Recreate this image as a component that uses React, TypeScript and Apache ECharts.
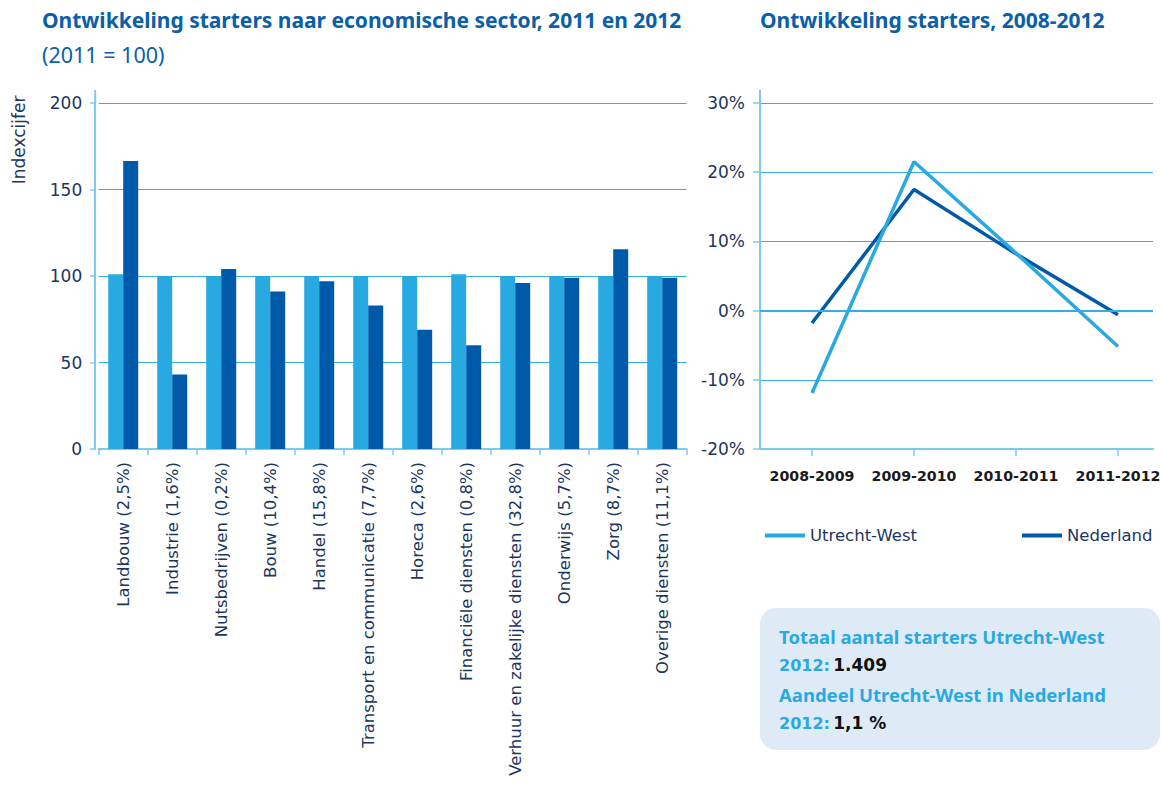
import React, { useEffect, useRef } from "react";
import * as echarts from "echarts";

const sectors = [
  "Landbouw (2,5%)",
  "Industrie (1,6%)",
  "Nutsbedrijven (0,2%)",
  "Bouw (10,4%)",
  "Handel (15,8%)",
  "Transport en communicatie (7,7%)",
  "Horeca (2,6%)",
  "Financiële diensten (0,8%)",
  "Verhuur en zakelijke diensten (32,8%)",
  "Onderwijs (5,7%)",
  "Zorg (8,7%)",
  "Overige diensten (11,1%)",
];
const index2011 = [101, 100, 100, 100, 100, 100, 100, 101, 100, 100, 100, 100];
const index2012 = [166.5, 43, 104, 91, 97, 83, 69, 60, 96, 99, 115.5, 99];

const periods = ["2008-2009", "2009-2010", "2010-2011", "2011-2012"];
const utrechtWest = [-11.9, 21.5, 8.3, -5.2];
const nederland = [-1.8, 17.5, 8.2, -0.6];
const periodTicks = [0, 1, 2, 3];

const LIGHT = "#29a9e1";
const DARK = "#005aaa";
const NAVY = "#1c3660";
const TITLE = "#0b5ea8";
const GRID = "#35ade3";
const AXIS = "#7ccaee";
const FONT = "'DejaVu Sans', sans-serif";
const TFONT = "'Noto Sans', 'Open Sans', sans-serif";

export default function App() {
  const ref = useRef<HTMLDivElement>(null);

  useEffect(() => {
    if (!ref.current) return;
    const chart = echarts.init(ref.current, undefined, { renderer: "svg" });

    const option: any = {
      animation: false,
      textStyle: { fontFamily: FONT },
      grid: [
        { left: 98.7, top: 103, width: 588, height: 346, containLabel: false, outerBoundsMode: "none" },
        { left: 760, top: 103, width: 393, height: 346, containLabel: false, outerBoundsMode: "none" },
      ],
      xAxis: [
        {
          gridIndex: 0,
          type: "category",
          data: sectors,
          axisLine: { lineStyle: { color: AXIS, width: 2 } },
          axisTick: { show: true, length: 6, lineStyle: { color: AXIS, width: 1.5 } },
          axisLabel: {
            rotate: 90,
            margin: 13,
            color: NAVY,
            fontSize: 16.5,
            fontFamily: FONT,
            interval: 0,
          },
        },
        {
          gridIndex: 1,
          type: "value",
          min: -0.51,
          max: 3.343,
          splitLine: { show: false },
          axisLine: { onZero: false, lineStyle: { color: AXIS, width: 2 } },
          axisTick: {
            show: true,
            length: 7,
            customValues: periodTicks,
            lineStyle: { color: AXIS, width: 1.5 },
          },
          axisLabel: {
            customValues: periodTicks,
            formatter: (v: number) => periods[Math.round(v)] ?? "",
            margin: 20,
            color: "#1a1a1a",
            fontSize: 14.2,
            fontWeight: "bold",
            fontFamily: FONT,
          },
        },
      ],
      yAxis: [
        {
          gridIndex: 0,
          type: "value",
          min: 0,
          max: 200,
          interval: 50,
          offset: 3.5,
          axisLine: { show: true, lineStyle: { color: AXIS, width: 2 } },
          axisTick: { show: true, length: 5, lineStyle: { color: AXIS, width: 1.5 } },
          splitLine: { lineStyle: { color: GRID, width: 1 } },
          axisLabel: { color: NAVY, fontSize: 17, margin: 13, fontFamily: FONT },
        },
        {
          gridIndex: 1,
          type: "value",
          min: -20,
          max: 30,
          interval: 10,
          axisLine: { show: true, onZero: false, lineStyle: { color: AXIS, width: 2 } },
          axisTick: { show: true, length: 7, lineStyle: { color: AXIS, width: 1.5 } },
          splitLine: { lineStyle: { color: GRID, width: 1 } },
          axisLabel: {
            color: NAVY,
            fontSize: 17,
            margin: 15,
            fontFamily: FONT,
            formatter: (v: number) => `${v}%`,
          },
        },
      ],
      legend: [
        {
          left: 760,
          top: 522,
          icon: "rect",
          itemWidth: 40,
          itemHeight: 4,
          itemGap: 10,
          data: ["Utrecht-West"],
          textStyle: { color: NAVY, fontSize: 16.5, fontFamily: FONT },
        },
        {
          left: 1017,
          top: 522,
          icon: "rect",
          itemWidth: 40,
          itemHeight: 4,
          itemGap: 10,
          data: ["Nederland"],
          textStyle: { color: NAVY, fontSize: 16.5, fontFamily: FONT },
        },
      ],
      series: [
        {
          name: "2011",
          type: "bar",
          xAxisIndex: 0,
          yAxisIndex: 0,
          data: index2011,
          barWidth: 15,
          barGap: "0%",
          itemStyle: { color: LIGHT },
        },
        {
          name: "2012",
          type: "bar",
          xAxisIndex: 0,
          yAxisIndex: 0,
          data: index2012,
          barWidth: 15,
          barGap: "0%",
          itemStyle: { color: DARK },
        },
        {
          name: "Nederland",
          type: "line",
          xAxisIndex: 1,
          yAxisIndex: 1,
          data: nederland.map((v, i) => [periodTicks[i], v]),
          symbol: "none",
          z: 2,
          lineStyle: { color: DARK, width: 3.5 },
          itemStyle: { color: DARK },
          markLine: {
            silent: true,
            symbol: "none",
            label: { show: false },
            lineStyle: { color: GRID, width: 2, type: "solid" },
            data: [{ yAxis: 0 }],
          },
        },
        {
          name: "Utrecht-West",
          type: "line",
          xAxisIndex: 1,
          yAxisIndex: 1,
          data: utrechtWest.map((v, i) => [periodTicks[i], v]),
          symbol: "none",
          z: 3,
          lineStyle: { color: LIGHT, width: 3.5 },
          itemStyle: { color: LIGHT },
        },
      ],
      graphic: [
        {
          type: "text",
          left: 42,
          top: 9,
          style: {
            text: "Ontwikkeling starters naar economische sector, 2011 en 2012",
            fill: TITLE,
            font: `bold 21px ${TFONT}`,
          },
        },
        {
          type: "text",
          left: 42,
          top: 43,
          style: {
            text: "(2011 = 100)",
            fill: TITLE,
            font: `21.5px ${TFONT}`,
          },
        },
        {
          type: "text",
          left: 760,
          top: 9,
          style: {
            text: "Ontwikkeling starters, 2008-2012",
            fill: TITLE,
            font: `bold 21px ${TFONT}`,
          },
        },
        {
          type: "text",
          x: 19,
          y: 140,
          rotation: Math.PI / 2,
          style: {
            text: "Indexcijfer",
            fill: NAVY,
            font: `17px ${FONT}`,
            align: "center",
            verticalAlign: "middle",
          },
        },
        {
          type: "line",
          shape: { x1: 95.2, y1: 90, x2: 95.2, y2: 104 },
          style: { stroke: AXIS, lineWidth: 2 },
        },
        {
          type: "line",
          shape: { x1: 760, y1: 90, x2: 760, y2: 104 },
          style: { stroke: AXIS, lineWidth: 2 },
        },
        {
          type: "rect",
          shape: { x: 760, y: 608, width: 400, height: 142, r: 16 },
          style: { fill: "#deebf7" },
        },
        {
          type: "text",
          x: 779,
          y: 636,
          style: {
            text: "Totaal aantal starters Utrecht-West",
            fill: LIGHT,
            font: `bold 18.5px ${TFONT}`,
            verticalAlign: "middle",
          },
        },
        {
          type: "text",
          x: 779,
          y: 665,
          style: {
            text: "{a|2012:} {b|1.409}",
            verticalAlign: "middle",
            rich: {
              a: { fill: LIGHT, font: `bold 16px ${FONT}` },
              b: { fill: "#111111", font: `bold 17px ${FONT}` },
            },
          },
        },
        {
          type: "text",
          x: 779,
          y: 694,
          style: {
            text: "Aandeel Utrecht-West in Nederland",
            fill: LIGHT,
            font: `bold 18.5px ${TFONT}`,
            verticalAlign: "middle",
          },
        },
        {
          type: "text",
          x: 779,
          y: 723,
          style: {
            text: "{a|2012:} {b|1,1 %}",
            verticalAlign: "middle",
            rich: {
              a: { fill: LIGHT, font: `bold 16px ${FONT}` },
              b: { fill: "#111111", font: `bold 17px ${FONT}` },
            },
          },
        },
      ],
    };

    chart.setOption(option);
    return () => chart.dispose();
  }, []);

  return (
    <div
      ref={ref}
      style={{ position: "fixed", left: 0, top: 0, width: 1161, height: 785, background: "#ffffff" }}
    />
  );
}
